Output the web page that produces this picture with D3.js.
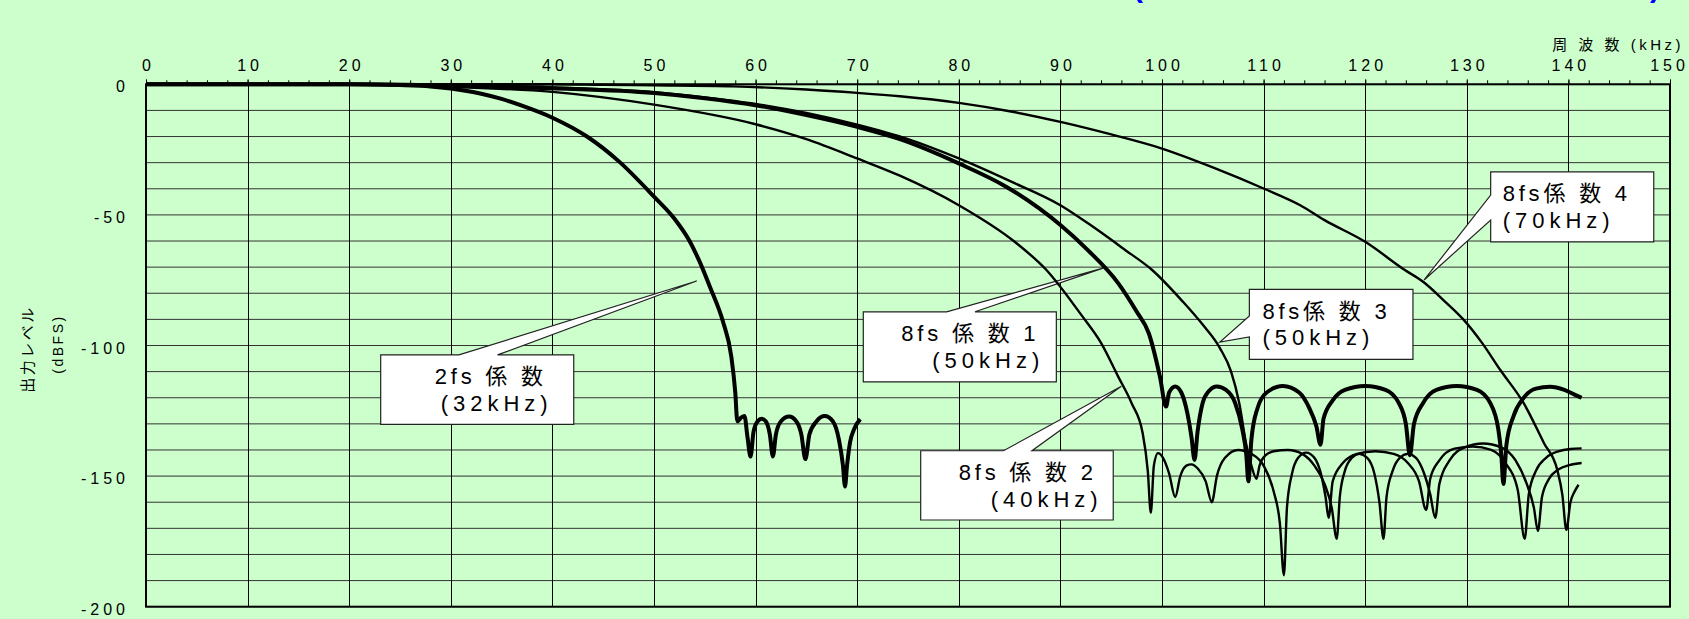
<!DOCTYPE html>
<html>
<head>
<meta charset="utf-8">
<script src="https://cdn.jsdelivr.net/npm/d3@7"></script>
<style>
body { margin: 0; background: #ccffcc; }
svg { display: block; }
text { font-family: "Liberation Sans", Arial, "Noto Sans CJK JP", sans-serif; }
</style>
</head>
<body>
<div id="content"></div>
<script>
var width = 1689;
var height = 619;

// axis ticks
var freq_ticks = [0, 10, 20, 30, 40, 50, 60, 70, 80, 90, 100, 110, 120, 130, 140, 150];
var level_ticks = [0, -50, -100, -150, -200];
var freq_title = "周 波 数 (kHz)";
var level_title = ["出力レベル", "(dBFS)"];

// series: [kHz, dBFS]
var coef_2fs = [
  [0,0],[10,0],[20,0],[25,-0.3],[28,-0.8],[30,-1.6],[33,-3.6],[35,-5.6],[37,-8.2],[40,-12.8],
  [43.4,-20],[46.6,-29.7],[50,-43],[52,-51.4],[53.5,-60],[54.5,-68],[55.5,-77.5],[56.8,-91],
  [57.6,-104],[58,-118],[58.2,-129],[58.6,-127.5],[58.9,-127],[59.2,-135],[59.5,-142.5],
  [59.8,-133],[60.2,-129],[60.6,-128],[61.0,-129],[61.4,-134],[61.7,-142.5],[62.0,-134],
  [62.5,-129],[63.3,-127.2],[64.0,-129],[64.5,-134],[64.9,-143.5],[65.3,-134],[66.0,-129],
  [66.8,-127],[67.6,-129],[68.2,-136],[68.6,-146],[68.8,-154],[69.0,-146],[69.3,-137],
  [69.7,-132],[70.3,-128.2]
];
var coef_8fs_1 = [
  [0,0],[20,0],[30,-0.5],[40,-1.5],[50,-3.3],[55,-5.3],[60,-8],[65,-11.8],[70,-16.3],
  [74.2,-21],[80,-30.3],[84.7,-39.3],[90,-53.9],[92.7,-63.5],[95.7,-76.2],[97.5,-87],
  [98.7,-95.3],[99.8,-112],[100.4,-123.4],[100.7,-118],[101.3,-115.7],[101.9,-118],
  [102.5,-126],[102.9,-135],[103.2,-143.8],[103.5,-133],[104,-122],[104.6,-117.5],
  [105.4,-115.7],[106.3,-117],[107.2,-122],[107.9,-132],[108.3,-142],[108.5,-152],
  [108.8,-136],[109.4,-124],[110.3,-118],[111.9,-115.5],[113.5,-118],[114.5,-124],
  [115.2,-131],[115.6,-138],[115.9,-128],[116.8,-121],[118,-117],[120,-115.5],[122,-117],
  [123.3,-122],[124,-130],[124.4,-142],[124.8,-130],[125.7,-122],[127,-117],[129,-115.5],
  [131,-117],[132.3,-122],[133.1,-132],[133.4,-142],[133.6,-153],[133.9,-138],[134.6,-127],
  [135.6,-120],[136.8,-116.5],[138.2,-115.8],[139.6,-117],[140.6,-118.8],[141.3,-120]
];
var coef_8fs_2 = [
  [0,0],[20,0],[25,-0.3],[30,-1],[40,-2.9],[50,-7.8],[60,-15.3],[65,-21],[70,-28.4],
  [74.2,-35],[80,-46.3],[85.5,-60.3],[88.6,-71],[92,-88],[94,-99],[95.7,-112],[97,-122],
  [98.1,-133.6],[98.6,-148],[98.9,-164],[99.2,-146],[99.6,-141.2],[100.1,-143],[100.7,-149],
  [101.3,-158],[101.8,-150],[102.4,-146],[102.9,-145.5],[103.5,-147],[104.3,-152],[104.9,-160],
  [105.4,-150],[106.2,-143],[107.5,-140],[108.8,-141.5],[110,-146],[111,-156],[111.6,-168],
  [112,-188],[112.3,-162],[112.8,-149],[113.4,-143],[114.2,-141],[115,-143],[115.7,-150],
  [116.1,-158],[116.4,-166],[116.8,-152],[117.8,-145],[119.2,-141.5],[121,-140.5],
  [122.8,-141.5],[124.2,-145],[125.3,-152],[126.0,-163],[126.4,-151],[127.3,-144],
  [128.8,-139.5],[130.6,-138.7],[132.4,-140],[133.8,-145],[135,-155],[135.7,-174],
  [136.1,-157],[136.8,-148],[137.8,-143],[139,-140.5],[140.2,-139.6],[141.3,-139.4]
];
var coef_8fs_3 = [
  [0,0],[20,0],[30,-0.4],[40,-1.2],[50,-3],[55,-5],[60,-7.5],[65,-11],[70,-15.5],[75,-21],
  [80,-28.4],[85,-37],[90,-46.3],[93,-54],[96.4,-63.5],[99,-71],[102,-83],[104,-92],
  [105.7,-101],[106.8,-110],[107.6,-122],[108.3,-138],[108.8,-146],[109.3,-151],[109.6,-146],
  [110.2,-142],[111,-140.5],[112.4,-140],[113.8,-141.5],[115,-146],[116,-153],[116.7,-162],
  [117.2,-174],[117.5,-158],[118,-148],[118.7,-143],[119.4,-141.5],[120.2,-143],[120.9,-149],
  [121.4,-160],[121.8,-174],[122.1,-158],[122.7,-148],[123.4,-143],[124.2,-141.5],[125,-143],
  [125.8,-149],[126.4,-157],[126.9,-166],[127.3,-153],[128.3,-144],[129.8,-139],[131.6,-137.5],
  [133.4,-139],[134.8,-144],[135.9,-153],[136.6,-162],[137.0,-171],[137.4,-158],[138.1,-151],
  [139,-147.5],[140.1,-145.8],[141.3,-145]
];
var coef_8fs_4 = [
  [0,0],[20,0],[40,0],[45,-0.2],[50,-0.4],[57.8,-0.8],[65,-2],[70,-3.3],[74.2,-4.6],[80,-7.1],
  [85,-10.3],[90,-14.4],[95,-19.2],[100,-24.6],[105,-31.8],[110,-39.9],[113.6,-46.3],[116,-52],
  [120,-60.3],[123.9,-71.1],[125.7,-75.6],[127.8,-83],[129.7,-90.2],[131.5,-99],[133.3,-109.4],
  [135.6,-122.1],[137.6,-137.4],[138.9,-147.6],[139.4,-157],[139.8,-170.6],[140.2,-160],
  [140.6,-156],[141.0,-153.3]
];

var series_names = ["2fs 係数 (32kHz)", "8fs 係数 1 (50kHz)", "8fs 係数 2 (40kHz)", "8fs 係数 3 (50kHz)", "8fs 係数 4 (70kHz)"];
var series_data = [coef_2fs, coef_8fs_1, coef_8fs_2, coef_8fs_3, coef_8fs_4];
var callout_text = [
  ["2fs 係 数", "(32kHz)"],
  ["8fs 係 数 1", "(50kHz)"],
  ["8fs 係 数 2", "(40kHz)"],
  ["8fs係 数 3", "(50kHz)"],
  ["8fs係 数 4", "(70kHz)"]
];

// layout (in axis units) and styles
var thick = [true, true, false, false, false];
var callouts = [
  {box: [23.1, 42.1, -103.6, -130.2], side: "top", base: [30.8, 34.6], tip: [54.2, -75.3], dx: [54, 60]},
  {box: [70.6, 89.6, -87.1, -113.9], side: "top", base: [78.8, 81.6], tip: [94.2, -70.4], dx: [38, 69]},
  {box: [76.25, 95.2, -140.3, -166.8], side: "top", base: [84.4, 87.2], tip: [96.0, -115.6], dx: [38, 70]},
  {box: [108.6, 124.7, -78.5, -105.3], side: "left", base: [-88.7, -96.7], tip: [105.7, -98.7], dx: [13, 13]},
  {box: [132.35, 148.4, -33.5, -60.3], side: "left", base: [-42.4, -52], tip: [125.8, -74.9], dx: [12, 12]}
];

var x = d3.scaleLinear().domain([0, 150]).range([146, 1670]);
var y = d3.scaleLinear().domain([0, -200]).range([84.3, 606.7]);

var chart = d3.select("#content")
  .append("svg:svg")
  .attr("width", width)
  .attr("height", height);

chart.append("rect")
  .attr("width", width)
  .attr("height", height)
  .attr("fill", "#ccffcc");

// cut-off title, only the bottoms of the brackets show
chart.append("text").attr("x", 1133).attr("y", -3)
  .attr("font-size", "30px").attr("font-weight", "bold").attr("fill", "#0000ff").text("(");
chart.append("text").attr("x", 1650).attr("y", -3)
  .attr("font-size", "30px").attr("font-weight", "bold").attr("fill", "#0000ff").text(")");

// grid
chart.append("g").selectAll("line")
  .data(d3.range(0, -201, -10))
  .enter().append("line")
  .attr("x1", x(0)).attr("x2", x(150))
  .attr("y1", function(d) { return y(d); })
  .attr("y2", function(d) { return y(d); })
  .attr("stroke", "#333")
  .attr("stroke-width", 1);

chart.append("g").selectAll("line")
  .data(freq_ticks)
  .enter().append("line")
  .attr("x1", function(d) { return Math.round(x(d)) + 0.5; })
  .attr("x2", function(d) { return Math.round(x(d)) + 0.5; })
  .attr("y1", y(0)).attr("y2", y(-200))
  .attr("stroke", "#000")
  .attr("stroke-width", 1);

// top axis: minor ticks, then labelled ticks
var minor = chart.append("g")
  .attr("transform", "translate(0," + y(0) + ")")
  .call(d3.axisTop(x).tickValues(d3.range(0, 151, 2)).tickSize(4).tickFormat(""));
minor.select(".domain").remove();
minor.selectAll("line").attr("stroke", "#000");

var xaxis = chart.append("g")
  .attr("transform", "translate(0," + y(0) + ")")
  .call(d3.axisTop(x).tickValues(freq_ticks).tickSize(5).tickPadding(8).tickFormat(function(d) { return String(d); }));
xaxis.select(".domain").remove();
xaxis.selectAll("line").attr("stroke", "#000");
xaxis.selectAll("text")
  .attr("font-size", "16px")
  .attr("font-family", null)
  .attr("letter-spacing", "4px")
  .attr("dx", function(d) { return d == 150 ? "-1px" : "2px"; })
  .attr("fill", "#000");

var yaxis = chart.append("g")
  .attr("transform", "translate(" + x(0) + ",0)")
  .call(d3.axisLeft(y).tickValues(level_ticks).tickSize(0).tickPadding(17).tickFormat(function(d) { return String(d); }));
yaxis.select(".domain").remove();
yaxis.selectAll("text")
  .attr("font-size", "16px")
  .attr("font-family", null)
  .attr("letter-spacing", "4px")
  .attr("dy", "7.5px")
  .attr("fill", "#000");

// axis titles
chart.append("text")
  .attr("x", 1684)
  .attr("y", 49.5)
  .attr("text-anchor", "end")
  .attr("font-size", "15px")
  .attr("letter-spacing", "3.5px")
  .text(freq_title);

chart.append("text")
  .attr("transform", "translate(33,349) rotate(-90)")
  .attr("text-anchor", "middle")
  .attr("font-size", "15px")
  .attr("letter-spacing", "2.5px")
  .text(level_title[0]);
chart.append("text")
  .attr("transform", "translate(63,344) rotate(-90)")
  .attr("text-anchor", "middle")
  .attr("font-size", "14px")
  .attr("letter-spacing", "2.5px")
  .text(level_title[1]);

// callouts
function calloutPath(c) {
  var l = x(c.box[0]), r = x(c.box[1]), t = y(c.box[2]), b = y(c.box[3]);
  var tx = x(c.tip[0]), ty = y(c.tip[1]);
  if (c.side == "top") {
    var b1 = x(c.base[0]), b2 = x(c.base[1]);
    return "M" + l + "," + t + "L" + b1 + "," + t + "L" + tx + "," + ty + "L" + b2 + "," + t +
      "L" + r + "," + t + "L" + r + "," + b + "L" + l + "," + b + "Z";
  }
  var u1 = y(c.base[0]), u2 = y(c.base[1]);
  return "M" + l + "," + t + "L" + r + "," + t + "L" + r + "," + b + "L" + l + "," + b +
    "L" + l + "," + u2 + "L" + tx + "," + ty + "L" + l + "," + u1 + "Z";
}

callouts.forEach(function(c, i) {
  chart.append("path")
    .attr("d", calloutPath(c))
    .attr("fill", "#fff")
    .attr("stroke", "#222")
    .attr("stroke-width", 1.2)
    .attr("stroke-linejoin", "miter");
  var left = x(c.box[0]), top = y(c.box[2]);
  chart.append("text")
    .attr("x", left + c.dx[0])
    .attr("y", top + 29.5)
    .attr("font-size", "22px")
    .attr("letter-spacing", "3.8px")
    .text(callout_text[i][0]);
  chart.append("text")
    .attr("x", left + c.dx[1])
    .attr("y", top + 56)
    .attr("font-size", "22px")
    .attr("letter-spacing", "5px")
    .text(callout_text[i][1]);
});

// curves
var line = d3.line()
  .curve(d3.curveMonotoneX)
  .x(function(d) { return x(d[0]); })
  .y(function(d) { return y(d[1]); });

series_data.forEach(function(s, i) {
  chart.append("path")
    .datum(s)
    .attr("class", "series")
    .attr("data-name", series_names[i])
    .attr("d", line)
    .attr("fill", "none")
    .attr("stroke", "#000")
    .attr("stroke-width", thick[i] ? 4 : 2.4)
    .attr("stroke-linejoin", "round")
    .attr("stroke-linecap", "butt");
});

// frame
chart.append("rect")
  .attr("x", x(0))
  .attr("y", y(0))
  .attr("width", x(150) - x(0))
  .attr("height", y(-200) - y(0))
  .attr("fill", "none")
  .attr("stroke", "#000")
  .attr("stroke-width", 2);
</script>
</body>
</html>
